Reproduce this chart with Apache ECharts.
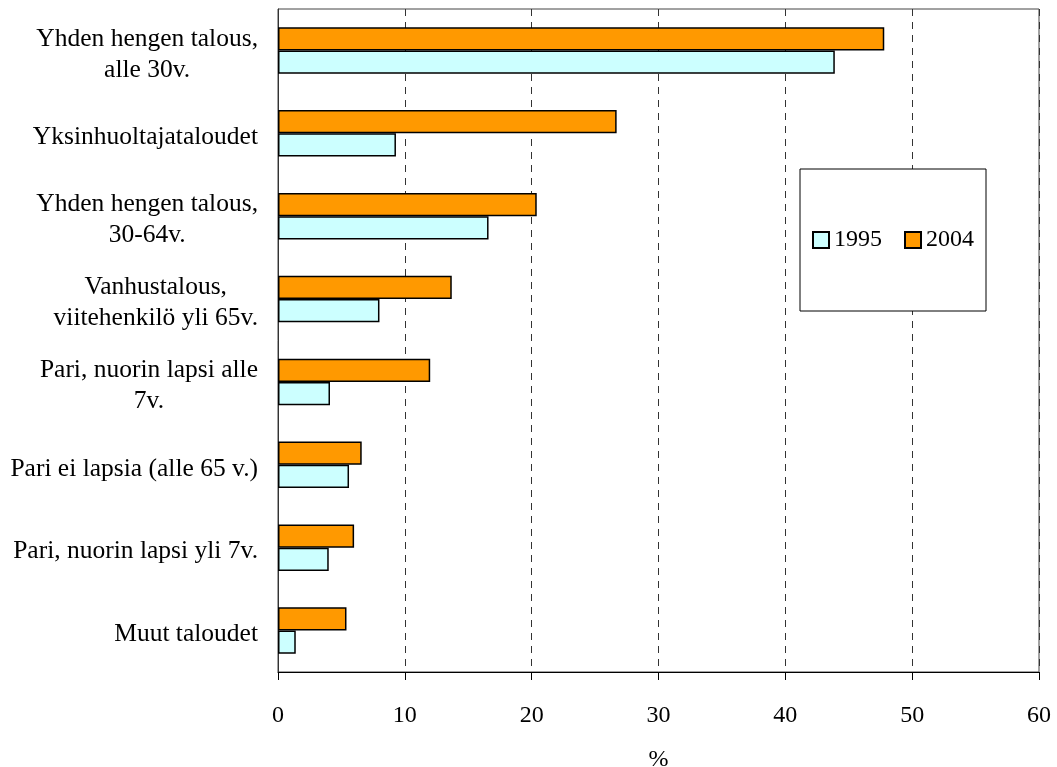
<!DOCTYPE html>
<html>
<head>
    <meta charset="utf-8">
    <title>ECharts</title>
    <script src="https://cdn.jsdelivr.net/npm/echarts@6/dist/echarts.min.js"></script>
</head>
<body style="margin:0;background:#fff;">
    <div id="main" style="width:1057px;height:767px;"></div>
    <script type="text/javascript">
        // luokat ylhäältä alas
        var categories = [
            'Yhden hengen talous,\nalle 30v.',
            'Yksinhuoltajataloudet',
            'Yhden hengen talous,\n30-64v.',
            'Vanhustalous,\nviitehenkilö yli 65v.',
            'Pari, nuorin lapsi alle\n7v.',
            'Pari ei lapsia (alle 65 v.)',
            'Pari, nuorin lapsi yli 7v.',
            'Muut taloudet'
        ];
        var values1995 = [43.9, 9.3, 16.6, 8.0, 4.1, 5.6, 4.0, 1.4];
        var values2004 = [47.8, 26.7, 20.4, 13.7, 12.0, 6.6, 6.0, 5.4];
        var xTicks = [0, 10, 20, 30, 40, 50, 60];

        var font = '"Liberation Serif", "DejaVu Serif", serif';
        var myChart = echarts.init(document.getElementById('main'));

        var option = {
            backgroundColor: '#fff',
            animation: false,
            textStyle: { fontFamily: font, color: '#000' },
            grid: {
                left: 278, right: 18, top: 9, bottom: 95,
                outerBoundsMode: 'none',
                containLabel: false,
                show: true, borderColor: '#444', borderWidth: 1
            },
            legend: {
                data: ['1995', '2004'],
                left: 800, top: 169,
                padding: [59, 12],
                itemGap: 22,
                itemWidth: 16, itemHeight: 16,
                icon: 'rect',
                backgroundColor: '#fff',
                borderColor: '#000', borderWidth: 1,
                textStyle: { fontFamily: font, fontSize: 24, color: '#000' }
            },
            xAxis: {
                type: 'value',
                min: xTicks[0], max: xTicks[xTicks.length - 1], interval: 10,
                name: '%', nameLocation: 'middle', nameGap: 76,
                nameTextStyle: { fontFamily: font, fontSize: 24, color: '#000' },
                axisLine: { show: true, lineStyle: { color: '#000', width: 1 } },
                axisTick: { show: true, length: 8, lineStyle: { color: '#000' } },
                axisLabel: { margin: 32, fontSize: 24, color: '#000', fontFamily: font },
                splitLine: { show: true, lineStyle: { color: '#333', type: [7, 6], width: 1 } }
            },
            yAxis: {
                type: 'category',
                inverse: true,
                data: categories,
                axisLine: { show: true, lineStyle: { color: '#333' } },
                axisTick: { show: false },
                axisLabel: {
                    margin: 20,
                    padding: [8, 0, 0, 0],
                    fontFamily: font,
                    formatter: function (v) {
                        return v.split('\n').map(function (s) { return '{c|' + s + '}'; }).join('\n');
                    },
                    rich: {
                        c: { align: 'center', fontSize: 25.5, lineHeight: 31, color: '#000', fontFamily: font }
                    }
                }
            },
            series: [
                {
                    name: '2004', type: 'bar', data: values2004,
                    barGap: '0%', barCategoryGap: '44%',
                    itemStyle: { color: '#FF9900', borderColor: '#000', borderWidth: 1.5 }
                },
                {
                    name: '1995', type: 'bar', data: values1995,
                    barGap: '0%', barCategoryGap: '44%',
                    itemStyle: { color: '#CCFFFF', borderColor: '#000', borderWidth: 1.5 }
                }
            ]
        };

        myChart.setOption(option);
    </script>
</body>
</html>
